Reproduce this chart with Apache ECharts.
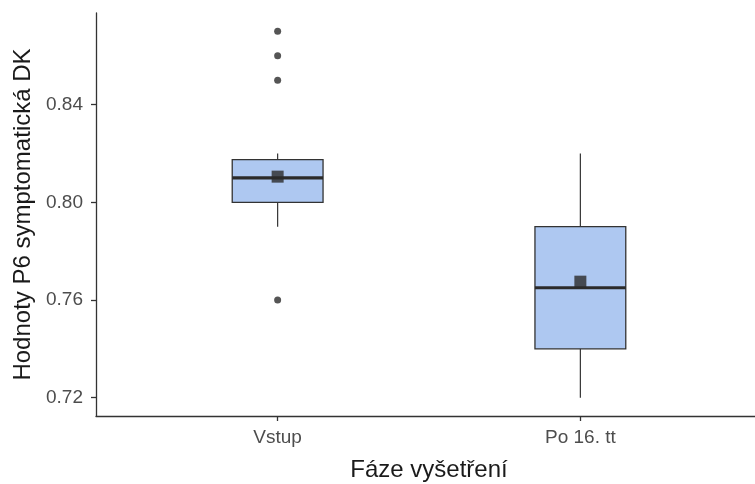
<!DOCTYPE html>
<html>
<head>
<meta charset="utf-8">
<script src="https://cdn.jsdelivr.net/npm/echarts@6/dist/echarts.min.js"></script>
<style>
  html, body { margin: 0; padding: 0; background: #ffffff; }
  #chart { width: 755px; height: 484px; }
</style>
</head>
<body>
<div id="chart"></div>
<script>
// Examination phases along the x axis
const categories = ['Vstup', 'Po 16. tt'];
// Box summaries: [lower whisker, Q1, median, Q3, upper whisker]
const boxStats = [
  [0.79, 0.80, 0.81, 0.8175, 0.82],
  [0.72, 0.74, 0.765, 0.79, 0.82]
];
// Group means
const means = [0.8105, 0.7675];
// Outlying observations: [category index, value]
const outliers = [
  [0, 0.87],
  [0, 0.86],
  [0, 0.85],
  [0, 0.76]
];
// Y tick labels
const yTicks = [0.72, 0.76, 0.80, 0.84];

const boxData = boxStats.map((s, i) => [i + 1].concat(s));
const meanData = means.map((m, i) => [i + 1, m]);
const outlierData = outliers.map(o => [o[0] + 1, o[1]]);

const ink = '#333333';
const tickText = '#4d4d4d';
const font = '"Liberation Sans", Arial, sans-serif';
const halfWidth = 0.15;

const chart = echarts.init(document.getElementById('chart'), null, { renderer: 'canvas' });

chart.setOption({
  animation: false,
  backgroundColor: '#ffffff',
  grid: { left: 96, right: -7, top: 13, bottom: 68, containLabel: false, outerBoundsMode: 'none' },
  xAxis: {
    type: 'value',
    min: 0.4,
    max: 2.6,
    name: 'Fáze vyšetření',
    nameLocation: 'middle',
    nameGap: 42,
    nameTextStyle: { fontFamily: font, fontSize: 24, color: '#1a1a1a' },
    axisLine: { show: true, lineStyle: { color: ink, width: 1.3 } },
    axisTick: { show: true, length: 5, lineStyle: { color: ink, width: 1.3 }, customValues: [1, 2] },
    axisLabel: {
      margin: 12,
      fontFamily: font,
      fontSize: 19,
      color: tickText,
      customValues: [1, 2],
      formatter: v => categories[Math.round(v) - 1] || ''
    },
    splitLine: { show: false }
  },
  yAxis: {
    type: 'value',
    min: 0.7125,
    max: 0.8775,
    name: 'Hodnoty P6 symptomatická DK',
    nameLocation: 'middle',
    nameGap: 56,
    nameTextStyle: { fontFamily: font, fontSize: 24, color: '#1a1a1a' },
    axisLine: { show: true, lineStyle: { color: ink, width: 1.3 } },
    axisTick: { show: true, length: 5, lineStyle: { color: ink, width: 1.3 }, customValues: yTicks },
    axisLabel: {
      margin: 13,
      fontFamily: font,
      fontSize: 19,
      color: tickText,
      customValues: yTicks,
      formatter: v => v.toFixed(2)
    },
    splitLine: { show: false }
  },
  series: [
    {
      type: 'custom',
      name: 'box',
      data: boxData,
      encode: { x: 0, y: [1, 2, 3, 4, 5] },
      renderItem: function (params, api) {
        const x = api.value(0);
        const lo = api.coord([x, api.value(1)]);
        const q1 = api.coord([x, api.value(2)]);
        const med = api.coord([x, api.value(3)]);
        const q3 = api.coord([x, api.value(4)]);
        const hi = api.coord([x, api.value(5)]);
        const left = api.coord([x - halfWidth, api.value(3)])[0];
        const right = api.coord([x + halfWidth, api.value(3)])[0];
        const cx = lo[0];
        return {
          type: 'group',
          children: [
            { type: 'line', shape: { x1: cx, y1: hi[1], x2: cx, y2: q3[1] },
              style: { stroke: ink, lineWidth: 1.2 } },
            { type: 'line', shape: { x1: cx, y1: q1[1], x2: cx, y2: lo[1] },
              style: { stroke: ink, lineWidth: 1.2 } },
            { type: 'rect', shape: { x: left, y: q3[1], width: right - left, height: q1[1] - q3[1] },
              style: { fill: '#aec8f1', stroke: ink, lineWidth: 1.3 } },
            { type: 'line', shape: { x1: left, y1: med[1], x2: right, y2: med[1] },
              style: { stroke: '#2b2b2b', lineWidth: 3.2 } }
          ]
        };
      },
      z: 2
    },
    {
      type: 'scatter',
      name: 'outliers',
      data: outlierData,
      symbol: 'circle',
      symbolSize: 7,
      itemStyle: { color: '#2b2b2b' },
      z: 3
    },
    {
      type: 'scatter',
      name: 'mean',
      data: meanData,
      symbol: 'rect',
      symbolSize: 12,
      itemStyle: { color: '#2b2b2b' },
      z: 4
    }
  ]
});
</script>
</body>
</html>
